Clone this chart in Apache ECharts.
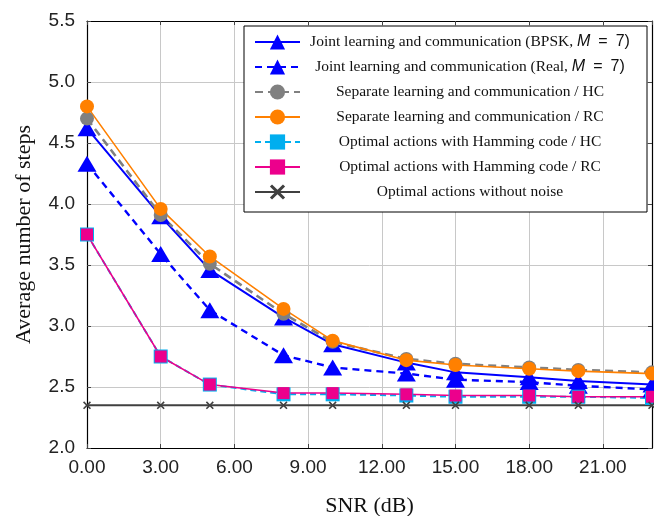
<!DOCTYPE html>
<html>
<head>
<meta charset="utf-8">
<script src="https://cdn.jsdelivr.net/npm/echarts@6/dist/echarts.min.js"></script>
<style>
  html, body { margin: 0; padding: 0; background: #fff; }
  #chart { width: 654px; height: 516px; }
</style>
</head>
<body>
<div id="chart"></div>
<script>
// SNR sweep (dB) and average number of steps per scheme
const snr = [0, 3, 5, 8, 10, 13, 15, 18, 20, 23];
const jointBpsk = [4.62, 3.90, 3.46, 3.07, 2.85, 2.70, 2.62, 2.58, 2.55, 2.52];
const jointReal = [4.33, 3.59, 3.13, 2.76, 2.66, 2.61, 2.56, 2.54, 2.51, 2.48];
const separateHc = [4.70, 3.91, 3.51, 3.10, 2.87, 2.73, 2.69, 2.66, 2.64, 2.62];
const separateRc = [4.80, 3.96, 3.57, 3.14, 2.88, 2.72, 2.68, 2.65, 2.63, 2.61];
const optimalHc = [3.75, 2.75, 2.52, 2.44, 2.44, 2.43, 2.42, 2.42, 2.42, 2.41];
const optimalRc = [3.75, 2.75, 2.52, 2.45, 2.45, 2.44, 2.43, 2.43, 2.42, 2.42];
const noiseless = [2.35, 2.35, 2.35, 2.35, 2.35, 2.35, 2.35, 2.35, 2.35, 2.35];

const seriesNames = [
  'Joint learning and communication (BPSK, M = 7)',
  'Joint learning and communication (Real, M = 7)',
  'Separate learning and communication / HC',
  'Separate learning and communication / RC',
  'Optimal actions with Hamming code / HC',
  'Optimal actions with Hamming code / RC',
  'Optimal actions without noise'
];

const pairs = ys => snr.map((x, i) => [x, ys[i]]);
const crossPath = 'path://M0,1.4L1.4,0L5,3.6L8.6,0L10,1.4L6.4,5L10,8.6L8.6,10L5,6.4L1.4,10L0,8.6L3.6,5Z';

const serif = 'Liberation Serif';
const sans = 'Liberation Sans';

// Legend labels: serif text, with the "M = 7" part set as math (italic M, spaced relation)
function legendText(name) {
  if (name.indexOf('M = 7') >= 0) {
    const parts = name.split('M = 7');
    return '{a|' + parts[0] + '}{m|M}{s|\u2002=\u20027' + parts[1] + '}';
  }
  return '{a|' + name + '}';
}

const chart = echarts.init(document.getElementById('chart'), null, { renderer: 'canvas' });

const axisCommon = {
  axisLine: { show: true, onZero: false, lineStyle: { color: '#000', width: 1.2 } },
  axisTick: { show: true, inside: true, length: 4, lineStyle: { color: '#444', width: 1 } }
};

chart.setOption({
  animation: false,
  backgroundColor: '#fff',
  grid: { left: 87, right: 2, top: 21, bottom: 68, containLabel: false, outerBoundsMode: 'none' },
  xAxis: [
    Object.assign({
      type: 'value', position: 'bottom', min: 0, max: 23, interval: 3,
      name: 'SNR (dB)', nameLocation: 'middle', nameGap: 47,
      nameTextStyle: { fontFamily: serif, fontSize: 22, color: '#111' },
      axisLabel: { margin: 10, fontFamily: sans, fontSize: 19, color: '#222',
        formatter: v => v.toFixed(2), showMaxLabel: false },
      splitLine: { show: true, lineStyle: { color: '#c8c8c8', width: 1 } }
    }, axisCommon),
    Object.assign({
      type: 'value', position: 'top', min: 0, max: 23, interval: 3,
      axisLabel: { show: false }, splitLine: { show: false }
    }, axisCommon)
  ],
  yAxis: [
    Object.assign({
      type: 'value', position: 'left', min: 2, max: 5.5, interval: 0.5,
      name: 'Average number of steps', nameLocation: 'middle', nameGap: 52,
      nameTextStyle: { fontFamily: serif, fontSize: 22, color: '#111' },
      axisLabel: { margin: 12, fontFamily: sans, fontSize: 19, color: '#222',
        formatter: v => v.toFixed(1) },
      splitLine: { show: true, lineStyle: { color: '#c8c8c8', width: 1 } }
    }, axisCommon),
    Object.assign({
      type: 'value', position: 'right', min: 2, max: 5.5, interval: 0.5,
      axisLabel: { show: false }, splitLine: { show: false }
    }, axisCommon)
  ],
  legend: {
    orient: 'vertical',
    left: 244, top: 26,
    padding: [7, 12, 11, 10],
    itemWidth: 45, itemHeight: 19, itemGap: 7,
    backgroundColor: '#fff',
    borderColor: '#000', borderWidth: 1, borderRadius: 0,
    data: seriesNames,
    formatter: legendText,
    textStyle: {
      width: 330, lineHeight: 18,
      rich: {
        a: { fontFamily: serif, fontSize: 15.5, color: '#111', align: 'center' },
        m: { fontFamily: sans, fontStyle: 'italic', fontSize: 16, color: '#111', align: 'center' },
        s: { fontFamily: sans, fontSize: 16, color: '#111', align: 'center' }
      }
    }
  },
  series: [
    {
      name: seriesNames[0], type: 'line', data: pairs(jointBpsk),
      symbol: 'triangle', symbolSize: [19, 16],
      lineStyle: { color: '#0000ff', width: 2 },
      itemStyle: { color: '#0000ff' }
    },
    {
      name: seriesNames[1], type: 'line', data: pairs(jointReal),
      symbol: 'triangle', symbolSize: [19, 16],
      lineStyle: { color: '#0000ff', width: 2.4, type: [7, 5] },
      itemStyle: { color: '#0000ff' }
    },
    {
      name: seriesNames[2], type: 'line', data: pairs(separateHc),
      symbol: 'circle', symbolSize: 14,
      lineStyle: { color: '#808080', width: 2.6, type: [8, 5] },
      itemStyle: { color: '#808080' }
    },
    {
      name: seriesNames[3], type: 'line', data: pairs(separateRc),
      symbol: 'circle', symbolSize: 14,
      lineStyle: { color: '#ff8000', width: 1.6 },
      itemStyle: { color: '#ff8000' }
    },
    {
      name: seriesNames[4], type: 'line', data: pairs(optimalHc),
      symbol: 'rect', symbolSize: 14,
      lineStyle: { color: '#00aeef', width: 2, type: [6, 4] },
      itemStyle: { color: '#00aeef' }
    },
    {
      name: seriesNames[5], type: 'line', data: pairs(optimalRc),
      symbol: 'rect', symbolSize: 12,
      lineStyle: { color: '#ec008c', width: 1.5 },
      itemStyle: { color: '#ec008c' }
    },
    {
      name: seriesNames[6], type: 'line', data: pairs(noiseless),
      symbol: crossPath, symbolSize: 8,
      lineStyle: { color: '#404040', width: 2 },
      itemStyle: { color: '#404040' }
    }
  ]
});
</script>
</body>
</html>
